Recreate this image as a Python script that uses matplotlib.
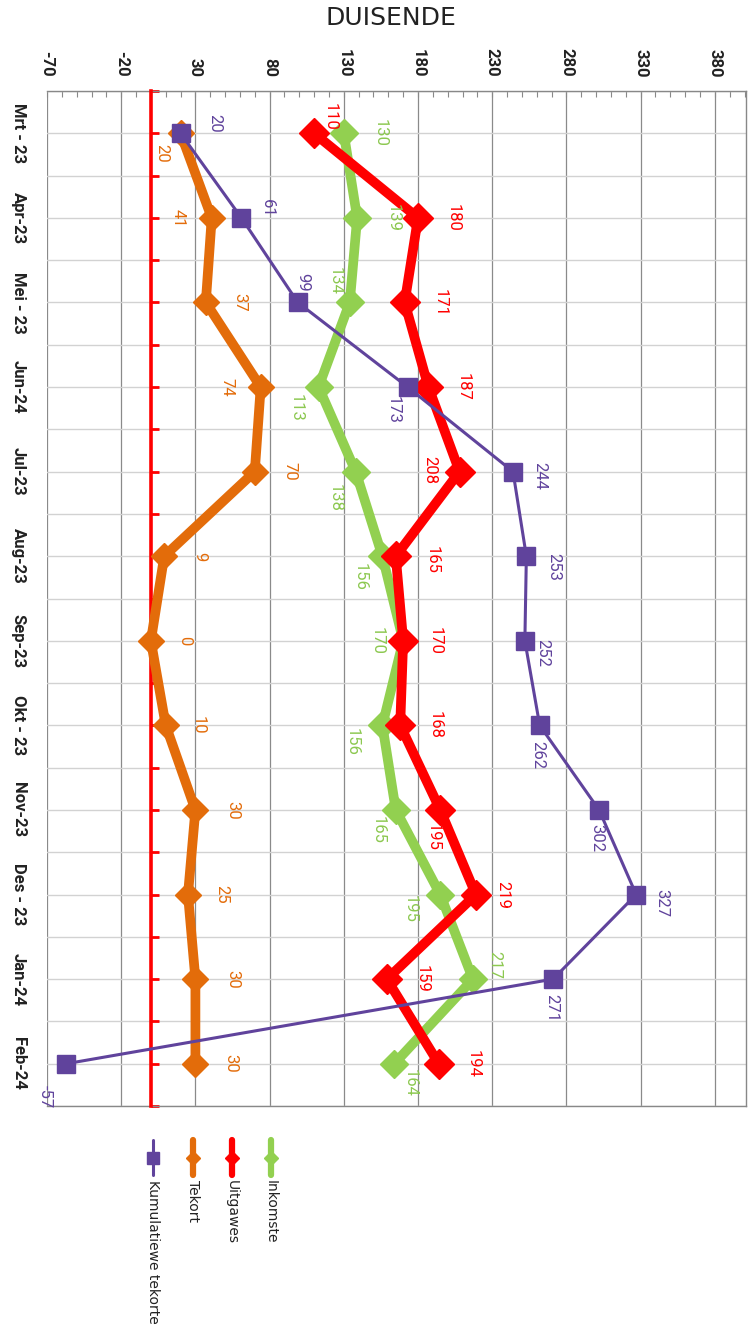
import numpy as np
import matplotlib
matplotlib.use("Agg")
import matplotlib.pyplot as plt
from matplotlib.transforms import blended_transform_factory

# ====================
# Data (thousands)
# ====================
months = ["Mrt - 23", "Apr-23", "Mei - 23", "Jun-24", "Jul-23", "Aug-23",
          "Sep-23", "Okt - 23", "Nov-23", "Des - 23", "Jan-24", "Feb-24"]
inkomste = [130, 139, 134, 113, 138, 156, 170, 156, 165, 195, 217, 164]
uitgawes = [110, 180, 171, 187, 208, 165, 170, 168, 195, 219, 159, 194]
tekort = [20, 41, 37, 74, 70, 9, 0, 10, 30, 25, 30, 30]
kumulatief = [20, 61, 99, 173, 244, 253, 252, 262, 302, 327, 271, -57]

# label offsets in pixels (dx right, dy down) -- picture is rotated 90 deg
off_ink = [(36, 0), (36, 0), (-15, -22), (-22, 21), (-21, 26), (-22, 21),
           (-26, 0), (-30, 17), (-18, 20), (-30, 14), (22, -14), (16, 19)]
off_uit = [(16, -16), (35, 0), (35, 0), (35, 0), (-30, -2), (36, 4),
           (32, 0), (35, 0), (-7, 27), (27, 0), (35, 0), (34, 0)]
off_tek = [(-19, 20), (-34, 0), (34, 0), (-34, 0), (35, 0), (36, 0),
           (34, 0), (32, 0), (37, 0), (34, 0), (37, 0), (35, 0)]
off_kum = [(34, -10), (26, -10), (5, -20), (-15, 23), (27, 4), (27, 11),
           (18, 12), (-2, 30), (-2, 28), (26, 9), (-1, 29), (-21, 33)]

GREEN = "#92D050"
RED = "#FF0000"
ORANGE = "#E36C0A"
PURPLE = "#60439C"

LBL = ["Roboto", "DejaVu Sans"]

fig = plt.figure(figsize=(7.51, 13.35), dpi=100)
W, H = 751, 1335
ax = fig.add_axes([47 / W, 1 - 1106 / H, 699 / W, 1015 / H])

y = np.arange(len(months))

series = [
    ("Inkomste", inkomste, GREEN, 7, "D", 14, off_ink, "#8CC850"),
    ("Uitgawes", uitgawes, RED, 7, "D", 15, off_uit, RED),
    ("Tekort", tekort, ORANGE, 7, "D", 13, off_tek, ORANGE),
    ("Kumulatiewe tekorte", kumulatief, PURPLE, 2.2, "s", 13, off_kum, PURPLE),
]

for i, (name, vals, col, lw, mk, ms, offs, tcol) in enumerate(series):
    ax.plot(vals, y, color=col, lw=lw, marker=mk, ms=ms, mec=col, mfc=col,
            zorder=4 + i, solid_joinstyle="miter")
    for v, yy, (dx, dy) in zip(vals, y, offs):
        ax.annotate(str(v), (v, yy), xytext=(dx, -dy), textcoords="offset pixels",
                    ha="center", va="center", rotation=-90, fontsize=12,
                    color=tcol, family=LBL, zorder=10)

# axes
ax.set_xlim(-70, 401)
ax.set_ylim(11.5, -0.5)
ax.xaxis.tick_top()
ax.set_xticks(np.arange(-70, 381, 50))
ax.set_xticks(np.arange(-70, 401, 10), minor=True)
ax.set_xticklabels([str(t) for t in np.arange(-70, 381, 50)], rotation=-90,
                   fontsize=12, fontweight="bold", family=LBL, color="#222222")
ax.tick_params(axis="x", which="both", direction="in", color="#888888",
               length=4, width=0.8, pad=10)
ax.set_yticks(y)
ax.set_yticks(np.arange(-0.5, 12, 1), minor=True)
ax.set_yticklabels([])
ax.tick_params(axis="y", which="both", direction="in", color=RED, length=6,
               width=2, labelleft=False)
ax.grid(axis="x", which="major", color="#8A8A8A", lw=0.9, zorder=0)
ax.grid(axis="y", which="both", color="#D2D2D2", lw=1.0, zorder=0)
ax.set_axisbelow(True)

ax.spines["left"].set_position(("data", 0))
ax.spines["left"].set_color(RED)
ax.spines["left"].set_linewidth(2.6)
ax.spines["left"].set_zorder(3)
for s in ["top", "right", "bottom"]:
    ax.spines[s].set_color("#888888")
    ax.spines[s].set_linewidth(1.0)

# category labels on the far left
trans = blended_transform_factory(ax.transAxes, ax.transData)
for yy, m in zip(y, months):
    ax.text(-0.041, yy, m, transform=trans, rotation=-90, ha="center",
            va="center", fontsize=12, fontweight="bold", family=LBL,
            color="#222222", clip_on=False)

fig.text(391 / W, 1 - 18 / H, "DUISENDE", ha="center", va="center",
         fontsize=18, color="#222222")

# legend (drawn in pixel space, rotated like the chart)
lax = fig.add_axes([0, 0, 1, 1])
lax.set_xlim(0, W)
lax.set_ylim(H, 0)
lax.axis("off")
leg_x = {"Kumulatiewe tekorte": 153, "Tekort": 193, "Uitgawes": 232, "Inkomste": 271}
for name, vals, col, lw, mk, ms, offs, tcol in series:
    lx = leg_x[name]
    lax.plot([lx, lx], [1140, 1175], color=col, lw=min(lw, 4.5),
             solid_capstyle="round")
    lax.plot([lx], [1158], marker=mk, ms=7 if mk == "D" else 8, color=col)
    lax.text(lx, 1180, name, rotation=-90, ha="center", va="top",
             fontsize=10, color="#222222")

fig.savefig("out.png", dpi=100, facecolor="white")
